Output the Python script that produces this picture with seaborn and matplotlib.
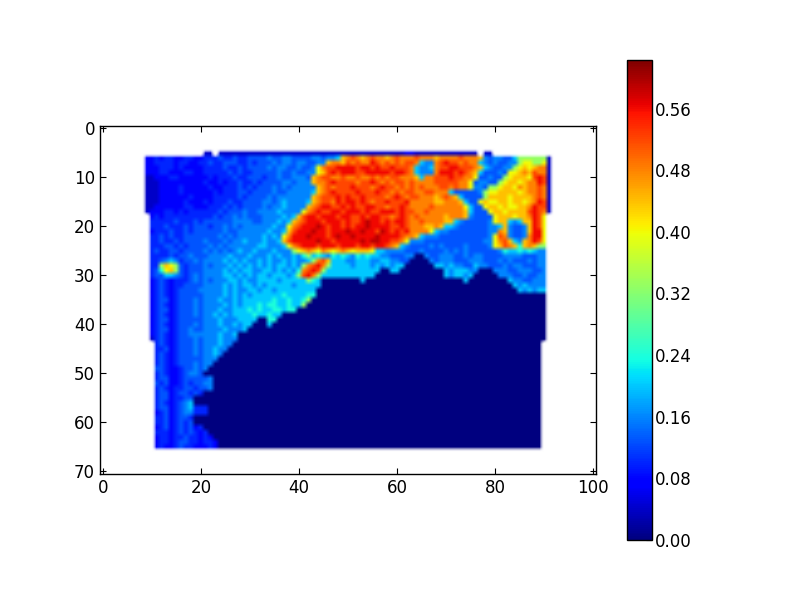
import numpy as np
import seaborn as sns
import matplotlib
matplotlib.use('Agg')
import matplotlib.pyplot as plt

# one character per cell, ten columns to a block, _ is an empty cell
LEVEL_CHARS = list('.abcdefghijklmn')
LEVEL_VALUES = [0.0, 0.04, 0.07, 0.10, 0.13, 0.16, 0.20, 0.24, 0.33, 0.40, 0.44, 0.48, 0.52, 0.56, 0.59]

X_TICKS = [0, 20, 40, 60, 80, 100]
Y_TICKS = [0, 10, 20, 30, 40, 50, 60, 70]
CBAR_TICKS = [0.00, 0.08, 0.16, 0.24, 0.32, 0.40, 0.48, 0.56]
VMAX = 0.623

BLANK = '__________ ' * 10

ROWS = [
    BLANK, BLANK, BLANK, BLANK, BLANK,
    '__________ __________ _aa_aaaaaa aaaaaaaaaa aaaaaaaaaa aaaaaaaaaa aabbaaaaaa aaaaaaa_aa __________ __________',
    '_________b bcbccbbccb bcccdccdcc ddddeddeed dddeedeefj klkjklkkjk lkkklkkkjk kkklkkkjed eeddfhhhhh ha________',
    '_________b bccccbccbb ccdccdddcc dcdddedeed eeddeejkkj lklkkmlklk lkllkfeekl mllklkkfed eddeehiihh ia________',
    '_________b bbcccbcbbb bccccdccdc ddddedeedd eddeikllmm mmlmmlmllm lllkfeefkl lmmlllkjfe ddeehijijk ka________',
    '_________b bbccbbbccb bcccccdcdc cdddddedde ddeeijlmlm mmllmmmmml mmlkfeeekm mmlmlkjfdd dediijkjlk ka________',
    '_________a abbbccbbbb bbcbcccdcc dddcddedde eedjkllkkl kklkklklkl lkkkjfkkll lmllkkidde ddhijjjilm la________',
    '_________a aabbbbbbbb bcbbcbccdc cdcddddeed eeejkklmll llkllmlklk llklkkkkll lllkkideed dhijjijkkm la________',
    '_________a aabbbbcbbb bbcbbcccdc dcdddedede eeeejklkll lmlllklmll klklklkkkl lklkkieedh hijjikjkkl ka________',
    '_________a aabbbbcbbb bbbcbcccdd cddddeddee eeefjklmll llmlllmllk lkllkkllkk kfdddddehi ijjjjijkkl ka________',
    '_________a aabbbbbbcb bbbcccccdc ddddedeeee eeejklllml mllmllllkl mlkllkkkjk lkjfddddhj jjjijjjjkl ka________',
    '_________a aabbbbbcbb bcbcccdccd dddeedefee eefjkllkml mmlmlkllml llmkkkkkjj kkkjfddiji ijjijjijkm la________',
    '_________a abbbbbbccb bbcccdcdcd dddedeefee eejklmmllm lmllmmllkl lmlkkkklkk kkkkifddij jijiijjkml la________',
    '_________a bbbccbcbcc ccccdcddde ddeeeefeee eiklmllmml mmmlmllmmm lmllkklkkk kkkkjfdddi jjijjjjlml ka________',
    '__________ bcbccccccc cccdcddede dddeeeefef jlmmlmmmlm mllmlmmllk lmlklkkkkk jkkkjedddd ijjjijjkml i_________',
    '__________ cccccdcccd cddddddeee eddeeefefj klmmmlmmml mllmnmmlml mmlkklkkkk jjfeddddde ijjfefjjml i_________',
    '__________ cccdcccdcd ddcddedede eeeeefeeik lmmmnmlmml mlmmnmmmml lmlkkkjjkj ffedddddde efjeddejml i_________',
    '__________ bcccdccdcd dddddeddee eeeefeefjl mmmnmmlmmm nmmnmmlnml mlmkkkkife edddddddde ekjeddejmm i_________',
    '__________ ccdcdccddd ddddededee eeefefeikm mmnmmmlmnm mnmmmmnmmm mlkkjfeeed ddddddddde ilkeddekmm i_________',
    '__________ ccdccdcddd dedddedeef eeefeefjlm mmmmnmmlmm mmmnmnnmml lkieeedddd ddddddddee ikljfejkml i_________',
    '__________ cccddcdcdd ddededeeee eeffeeefik lmmmlmmmlm mmlmmlmmlk jfeddddede ddddedddde ijlkjgjkjh h_________',
    '__________ cdccddcddd dedededefe efeeefeeeh ijkjikjijk jijjjiffee eedddedddd edededdddd degffgfgfe e_________',
    '__________ ccccdcdded ddeeeefeee feeefefeef eghfgfegfg fegfgffeed ddee..edde eeddedeedd ddeeeeddde e_________',
    '__________ ccdefecdde deeeefefef eefefeefef eefhkljfff eefffeeffe edd....ede eedddeeedd dededddede e_________',
    '__________ cchjihdcdd dedeeefefe fefefeffef ehklmkhfff fefffefefe ff......ff efeeddfeed ddedeeddde e_________',
    '__________ cdgijhdcdd deeeefefef feeffefefe gklmlhffff fffffff..f f......... fefffee... eeeddeeedd e_________',
    '__________ cddffedcde deeeeffefe feffefffef hlmkhfffff ffffff.... .......... feffef.... .eeeddedde e_________',
    '__________ bcdcbcccde dedeeeffef eeffffefff ffhgf..... ...f...... .......... ....f..... ...feeddee e_________',
    '__________ bcdcbccddd deeeefefef fefefffffe fffff..... .......... .......... .......... ....fefeee e_________',
    '__________ bcdcbcdddd eeeeefefee ffeffeffff ffff...... .......... .......... .......... .....fefef f_________',
    '__________ bcdcbcdddd deeeefefef effffffgff ffgg...... .......... .......... .......... .......... ._________',
    '__________ bcddbcddde deeefeefef fffffgffgf fgh....... .......... .......... .......... .......... ._________',
    '__________ bcdcbcddde deeeefefef ffgfggffgf fh........ .......... .......... .......... .......... ._________',
    '__________ bcddbcddde deeefeefff gfgffggfgg .......... .......... .......... .......... .......... ._________',
    '__________ bcdcbcddde deefefefff fgffgff... .......... .......... .......... .......... .......... ._________',
    '__________ bcddbcdddd deeefeeeff ff..gg.... .......... .......... .......... .......... .......... ._________',
    '__________ bcdcbcddde deeefeefef f...f..... .......... .......... .......... .......... .......... ._________',
    '__________ bcddbcdded deeeefeeef .......... .......... .......... .......... .......... .......... ._________',
    '__________ bcdcbcddee eeeefeef.. .......... .......... .......... .......... .......... .......... ._________',
    '__________ acdcbcddde deeefeee.. .......... .......... .......... .......... .......... .......... ._________',
    '__________ _cdcbcddde deeefee... .......... .......... .......... .......... .......... .......... __________',
    '__________ _ccdbcddde deefee.... .......... .......... .......... .......... .......... .......... __________',
    '__________ _cdcbcddde deefe..... .......... .......... .......... .......... .......... .......... __________',
    '__________ _cdcbcdddd deee...... .......... .......... .......... .......... .......... .......... __________',
    '__________ _cdcbcddde dee....... .......... .......... .......... .......... .......... .......... __________',
    '__________ _ddcbbcdde de........ .......... .......... .......... .......... .......... .......... __________',
    '__________ _cdcbbcdee d......... .......... .......... .......... .......... .......... .......... __________',
    '__________ _cddbbcddd dde....... .......... .......... .......... .......... .......... .......... __________',
    '__________ _dcdbbcdcd dee....... .......... .......... .......... .......... .......... .......... __________',
    '__________ _cdcbccddc dde....... .......... .......... .......... .......... .......... .......... __________',
    '__________ _cddbcddcd c......... .......... .......... .......... .......... .......... .......... __________',
    '__________ _cddbccdd. .......... .......... .......... .......... .......... .......... .......... __________',
    '__________ _cdcbcdef. .......... .......... .......... .......... .......... .......... .......... __________',
    '__________ _cddbcdefc cc........ .......... .......... .......... .......... .......... .......... __________',
    '__________ _bcdbcdeec cc........ .......... .......... .......... .......... .......... .......... __________',
    '__________ _ccdbcddc. .......... .......... .......... .......... .......... .......... .......... __________',
    '__________ _ccdbcdcd. .......... .......... .......... .......... .......... .......... .......... __________',
    '__________ _bcdbcdcdb c......... .......... .......... .......... .......... .......... .......... __________',
    '__________ _cccbcdcdc bc........ .......... .......... .......... .......... .......... .......... __________',
    '__________ _bccbccdcc bcb....... .......... .......... .......... .......... .......... .......... __________',
    '__________ _bccbcddcc bccb...... .......... .......... .......... .......... .......... .......... __________',
    '__________ _bcbbcdccb bbcb...... .......... .......... .......... .......... .......... .......... __________',
    BLANK, BLANK, BLANK, BLANK, BLANK,
]


def rows_to_grid(rows):
    lookup = dict(zip(LEVEL_CHARS, LEVEL_VALUES))
    grid = []
    for row in rows:
        cells = row.replace(' ', '').ljust(101, '_')[:101]
        grid.append([lookup.get(c, np.nan) for c in cells])
    return np.array(grid)


def plot_grid(grid):
    sns.set_style('white')
    plt.rcParams['font.family'] = ['DejaVu Sans']
    plt.rcParams['font.size'] = 12

    fig = plt.figure(figsize=(8, 6), dpi=100)
    ax = fig.add_axes([0.1255, 0.2105, 0.619, 0.58])
    cax = fig.add_axes([0.784, 0.10, 0.031, 0.80])

    # heatmap sets up the axes and colorbar, imshow gives the bilinear smoothing
    sns.heatmap(grid, ax=ax, cbar_ax=cax, cmap='jet', vmin=0, vmax=VMAX,
                xticklabels=False, yticklabels=False)
    mesh = ax.collections[0]
    mesh.set_visible(False)
    cmap = plt.get_cmap('jet').with_extremes(bad=(1, 1, 1, 0))
    ax.imshow(np.ma.masked_invalid(grid), cmap=cmap, vmin=0, vmax=VMAX,
              interpolation='bilinear', interpolation_stage='rgba', aspect='equal')

    ax.set_xlim(-0.5, 100.5)
    ax.set_ylim(70.5, -0.5)
    ax.set_xticks(X_TICKS, labels=[str(t) for t in X_TICKS])
    ax.set_yticks(Y_TICKS, labels=[str(t) for t in Y_TICKS])
    ax.tick_params(direction='in', length=4, width=0.8, color='black', top=True, right=True,
                   bottom=True, left=True, labelsize=12, labelcolor='black', pad=4)
    ax.tick_params(axis='y', labelrotation=0)
    for spine in ax.spines.values():
        spine.set_visible(True)
        spine.set_color('black')
        spine.set_linewidth(1)

    cbar = mesh.colorbar
    cbar.set_ticks(CBAR_TICKS, labels=['%.2f' % t for t in CBAR_TICKS])
    cbar.outline.set_visible(True)
    cbar.outline.set_linewidth(1)
    cbar.outline.set_edgecolor('black')
    cax.tick_params(direction='in', length=4, width=0.8, color='black', right=True,
                    labelsize=12, labelcolor='black', pad=2)

    fig.savefig('out.png', dpi=100)


if __name__ == "__main__":
    plot_grid(rows_to_grid(ROWS))
